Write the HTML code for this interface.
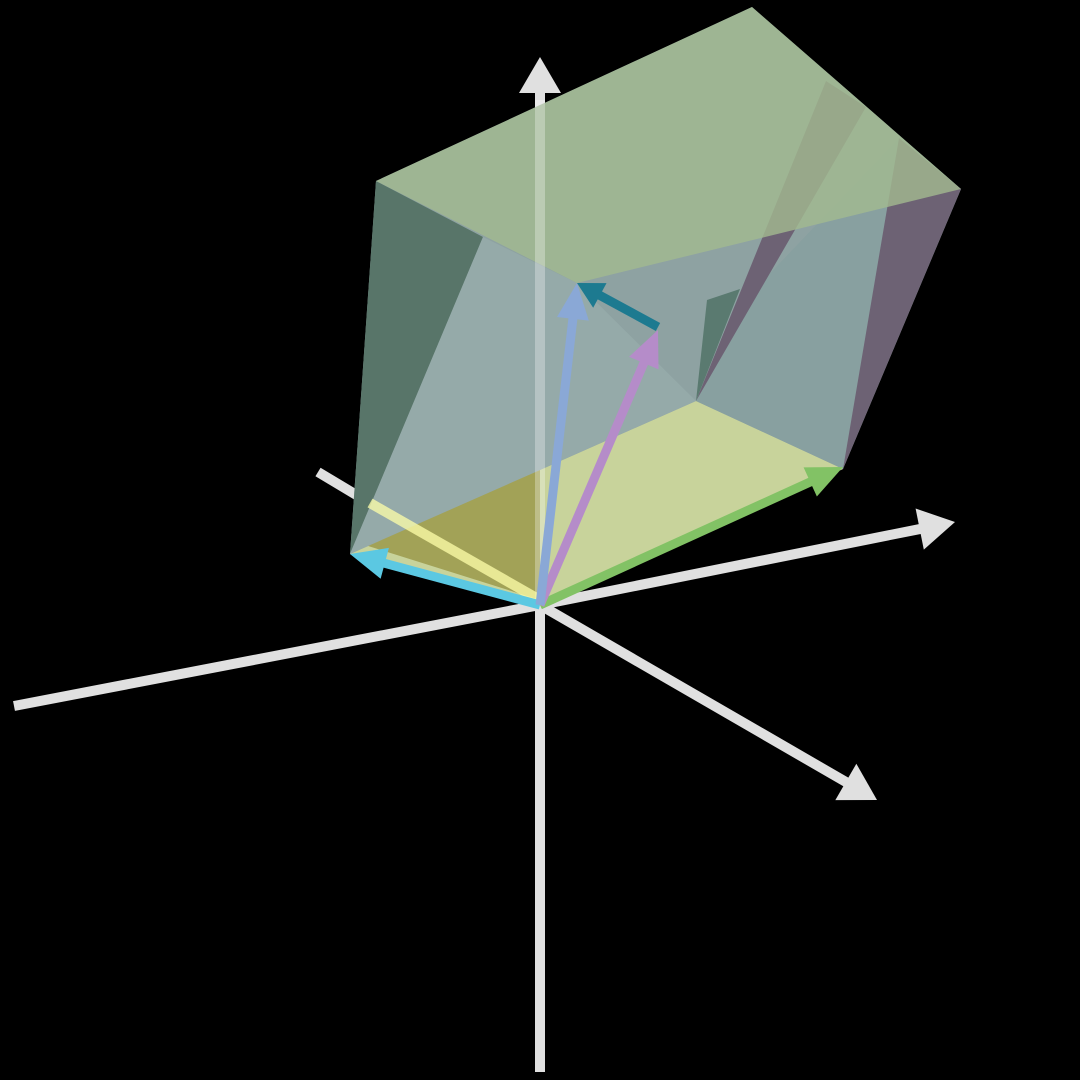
<!DOCTYPE html>
<html><head><meta charset="utf-8"><style>html,body{margin:0;background:#000}svg{display:block}</style></head>
<body>
<svg id="c" width="1080" height="1080" viewBox="0 0 1080 1080"></svg>
<script>
const origin = [540, 605];
// axis endpoints relative to origin (screen deltas)
const axisNames = ["z-axis-up","z-axis-down","x-axis-pos","x-axis-neg","y-axis-pos","y-axis-neg"];
const axisEnds = [[0,-548],[0,467],[415,-83],[-526,101],[337,195],[-222,-133]];
const axisHeads = [true,false,true,false,true,false];
// basis vectors (screen deltas)
const vecNames = ["vector-a","vector-b","vector-c","vector-d"];
const vecEnds = [[-190,-51],[303,-138],[118,-275],[37,-322]];
const vecColors = ["#5bc8e2","#82c265","#b58cc9","#8aa8d6"];
// box faces (screen deltas from origin)
const faceNames = ["box-silhouette","yellow-base","olive-base","left-face","front-face","right-face","purple-face","inner-wedge","inner-teal","top-face"];
const faceColors = ["#8ea2a2","#c8d39b","#a2a257","#587569","#95aaa9","#88a0a0","#6d6274","#6d6274","#5a7a70","#a3ba90"];
const faceOpacity = [1,1,1,1,1,1,1,1,1,0.8];
const faces = [
 [[-164,-424],[212,-598],[421,-416],[303,-136],[0,0],[-190,-51]],
 [[-190,-51],[0,0],[303,-136],[156,-204]],
 [[-175,-60],[0,-135],[0,-5]],
 [[-164,-424],[-57,-368],[-190,-51]],
 [[-57,-368],[37,-322],[156,-204],[0,-135],[-190,-51]],
 [[156,-204],[303,-136],[359,-467],[200,-300]],
 [[359,-467],[421,-416],[303,-136]],
 [[156,-204],[286,-524],[326,-498]],
 [[156,-204],[167,-305],[200,-316]],
 [[-164,-424],[212,-598],[421,-416],[37,-322]]
];
const svg = document.getElementById('c');
const NS = 'http://www.w3.org/2000/svg';
function px(d){return [origin[0]+d[0], origin[1]+d[1]];}
function mk(t,a){const e=document.createElementNS(NS,t);for(const k in a)e.setAttribute(k,a[k]);svg.appendChild(e);return e;}
function arrow(d, color, w, hl, hw, name, from){
  const s = px(from||[0,0]), e = px(d);
  const dx=e[0]-s[0], dy=e[1]-s[1], L=Math.hypot(dx,dy), ux=dx/L, uy=dy/L;
  const bx=e[0]-ux*hl, by=e[1]-uy*hl;
  const ln = mk('line',{x1:s[0],y1:s[1],x2:bx+ux*2,y2:by+uy*2,stroke:color,'stroke-width':w});
  
  
  const hd = mk('polygon',{points:`${e[0]},${e[1]} ${bx-uy*hw/2},${by+ux*hw/2} ${bx+uy*hw/2},${by-ux*hw/2}`,fill:color});
  
  
}
axisEnds.forEach((d,i)=>{
  if(axisHeads[i]) arrow(d,'#e0e0e0',10,36,42,axisNames[i]);
  else { const e=px(d); const l=mk('line',{x1:origin[0],y1:origin[1],x2:e[0],y2:e[1],stroke:'#e0e0e0','stroke-width':10});
    
     }
});
faces.forEach((f,i)=>{
  const p = mk('polygon',{points:f.map(d=>px(d).join(',')).join(' '),fill:faceColors[i],'fill-opacity':faceOpacity[i]});
  
  
});
// axis segments seen through the translucent box
const see1 = mk('line',{x1:540,y1:600,x2:540,y2:100,stroke:'rgba(255,255,255,0.3)','stroke-width':10});


const see2 = mk('line',{x1:540,y1:600,x2:370,y2:503,stroke:'rgba(255,255,170,0.75)','stroke-width':10});


vecEnds.forEach((d,i)=>arrow(d,vecColors[i],9,36,32,vecNames[i]));
arrow([37,-322],'#1d7a90',9,26,28,'difference-vector',[118,-278]);
</script>
</body></html>
